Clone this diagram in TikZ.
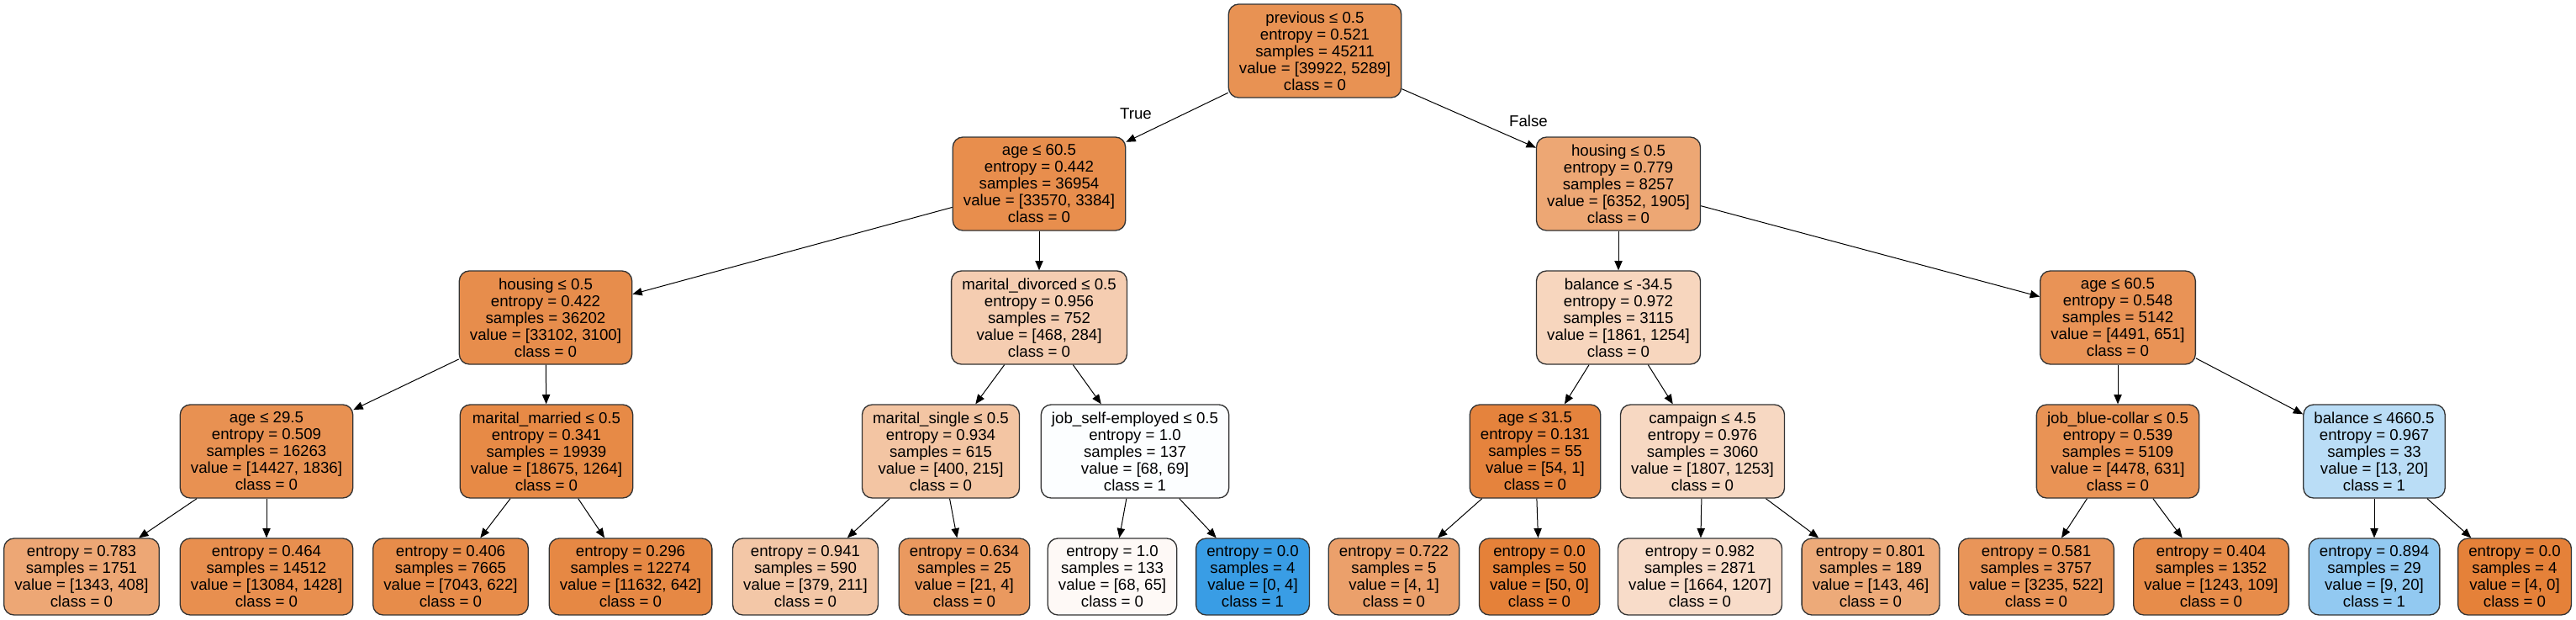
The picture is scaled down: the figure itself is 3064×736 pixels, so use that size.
\documentclass[tikz,border=0pt]{standalone}
\usepackage{fontspec}
\setmainfont{Liberation Sans}
\usetikzlibrary{arrows.meta}
\definecolor{clsA}{RGB}{229,129,57}
\definecolor{clsB}{RGB}{57,157,229}
\tikzset{
  tnode/.style={draw=black!80, line width=1pt, rounded corners=9pt, align=center,
    font=\fontsize{14pt}{15pt}\selectfont, inner xsep=9.5pt, inner ysep=2pt,
    minimum height=83.25pt},
  leafbox/.style={tnode, minimum height=68.25pt},
  oc/.style={fill=clsA!#1!white},
  bc/.style={fill=clsB!#1!white},
  conn/.style={-{Triangle[length=8.5pt,width=7pt]}, line width=0.75pt, black},
  lbl/.style={font=\fontsize{14pt}{15pt}\selectfont, inner sep=0pt}
}
\begin{document}
\begin{tikzpicture}[x=0.75pt,y=-0.75pt]
\useasboundingbox (0,0) rectangle (3064,736);

% level 0
\node[tnode,oc=86.8] (n0) at (1564,60.5) {previous ≤ 0.5\\entropy = 0.521\\samples = 45211\\value = [39922, 5289]\\class = 0};
% level 1
\node[tnode,oc=89.9] (n1) at (1236,218.5) {age ≤ 60.5\\entropy = 0.442\\samples = 36954\\value = [33570, 3384]\\class = 0};
\node[tnode,oc=70.0] (n2) at (1925,218.5) {housing ≤ 0.5\\entropy = 0.779\\samples = 8257\\value = [6352, 1905]\\class = 0};
% level 2
\node[tnode,oc=90.6] (n3) at (649,377.5) {housing ≤ 0.5\\entropy = 0.422\\samples = 36202\\value = [33102, 3100]\\class = 0};
\node[tnode,oc=39.3] (n4) at (1236,377.5) {marital\_divorced ≤ 0.5\\entropy = 0.956\\samples = 752\\value = [468, 284]\\class = 0};
\node[tnode,oc=32.6] (n5) at (1925,377.5) {balance ≤ -34.5\\entropy = 0.972\\samples = 3115\\value = [1861, 1254]\\class = 0};
\node[tnode,oc=85.5] (n6) at (2519,377.5) {age ≤ 60.5\\entropy = 0.548\\samples = 5142\\value = [4491, 651]\\class = 0};
% level 3
\node[tnode,oc=87.3] (n7) at (317,536.5) {age ≤ 29.5\\entropy = 0.509\\samples = 16263\\value = [14427, 1836]\\class = 0};
\node[tnode,oc=93.2] (n8) at (650,536.5) {marital\_married ≤ 0.5\\entropy = 0.341\\samples = 19939\\value = [18675, 1264]\\class = 0};
\node[tnode,oc=46.3] (n9) at (1119,536.5) {marital\_single ≤ 0.5\\entropy = 0.934\\samples = 615\\value = [400, 215]\\class = 0};
\node[tnode,bc=1.4] (n10) at (1350,536.5) {job\_self-employed ≤ 0.5\\entropy = 1.0\\samples = 137\\value = [68, 69]\\class = 1};
\node[tnode,oc=98.1] (n11) at (1826,536.5) {age ≤ 31.5\\entropy = 0.131\\samples = 55\\value = [54, 1]\\class = 0};
\node[tnode,oc=30.7] (n12) at (2025,536.5) {campaign ≤ 4.5\\entropy = 0.976\\samples = 3060\\value = [1807, 1253]\\class = 0};
\node[tnode,oc=85.9] (n13) at (2519,536.5) {job\_blue-collar ≤ 0.5\\entropy = 0.539\\samples = 5109\\value = [4478, 631]\\class = 0};
\node[tnode,bc=35] (n14) at (2824,536.5) {balance ≤ 4660.5\\entropy = 0.967\\samples = 33\\value = [13, 20]\\class = 1};
% leaves
\node[leafbox,oc=69.6] (l1) at (97,685.5) {entropy = 0.783\\samples = 1751\\value = [1343, 408]\\class = 0};
\node[leafbox,oc=89.1] (l2) at (317,685.5) {entropy = 0.464\\samples = 14512\\value = [13084, 1428]\\class = 0};
\node[leafbox,oc=91.2] (l3) at (536,685.5) {entropy = 0.406\\samples = 7665\\value = [7043, 622]\\class = 0};
\node[leafbox,oc=94.5] (l4) at (750,685.5) {entropy = 0.296\\samples = 12274\\value = [11632, 642]\\class = 0};
\node[leafbox,oc=44.3] (l5) at (958,685.5) {entropy = 0.941\\samples = 590\\value = [379, 211]\\class = 0};
\node[leafbox,oc=81.0] (l6) at (1147,685.5) {entropy = 0.634\\samples = 25\\value = [21, 4]\\class = 0};
\node[leafbox,oc=4.4] (l7) at (1323,685.5) {entropy = 1.0\\samples = 133\\value = [68, 65]\\class = 0};
\node[leafbox,bc=100] (l8) at (1490,685.5) {entropy = 0.0\\samples = 4\\value = [0, 4]\\class = 1};
\node[leafbox,oc=75] (l9) at (1658,685.5) {entropy = 0.722\\samples = 5\\value = [4, 1]\\class = 0};
\node[leafbox,oc=100] (l10) at (1831,685.5) {entropy = 0.0\\samples = 50\\value = [50, 0]\\class = 0};
\node[leafbox,oc=27.5] (l11) at (2022,685.5) {entropy = 0.982\\samples = 2871\\value = [1664, 1207]\\class = 0};
\node[leafbox,oc=67.8] (l12) at (2225,685.5) {entropy = 0.801\\samples = 189\\value = [143, 46]\\class = 0};
\node[leafbox,oc=83.9] (l13) at (2422,685.5) {entropy = 0.581\\samples = 3757\\value = [3235, 522]\\class = 0};
\node[leafbox,oc=91.2] (l14) at (2630,685.5) {entropy = 0.404\\samples = 1352\\value = [1243, 109]\\class = 0};
\node[leafbox,bc=55] (l15) at (2824,685.5) {entropy = 0.894\\samples = 29\\value = [9, 20]\\class = 1};
\node[leafbox,oc=100] (l16) at (2991,685.5) {entropy = 0.0\\samples = 4\\value = [4, 0]\\class = 0};

% edge labels
\node[lbl] (tl) at (1351,135) {True};
\node[lbl] (fl) at (1818,144) {False};

% connectors
\draw[conn] (n0) -- (n1);
\draw[conn] (n0) -- (n2);
\draw[conn] (n1) -- (n3);
\draw[conn] (n1) -- (n4);
\draw[conn] (n2) -- (n5);
\draw[conn] (n2) -- (n6);
\draw[conn] (n3) -- (n7);
\draw[conn] (n3) -- (n8);
\draw[conn] (n4) -- (n9);
\draw[conn] (n4) -- (n10);
\draw[conn] (n5) -- (n11);
\draw[conn] (n5) -- (n12);
\draw[conn] (n6) -- (n13);
\draw[conn] (n6) -- (n14);
\draw[conn] (n7) -- (l1);
\draw[conn] (n7) -- (l2);
\draw[conn] (n8) -- (l3);
\draw[conn] (n8) -- (l4);
\draw[conn] (n9) -- (l5);
\draw[conn] (n9) -- (l6);
\draw[conn] (n10) -- (l7);
\draw[conn] (n10) -- (l8);
\draw[conn] (n11) -- (l9);
\draw[conn] (n11) -- (l10);
\draw[conn] (n12) -- (l11);
\draw[conn] (n12) -- (l12);
\draw[conn] (n13) -- (l13);
\draw[conn] (n13) -- (l14);
\draw[conn] (n14) -- (l15);
\draw[conn] (n14) -- (l16);
\end{tikzpicture}
\end{document}
